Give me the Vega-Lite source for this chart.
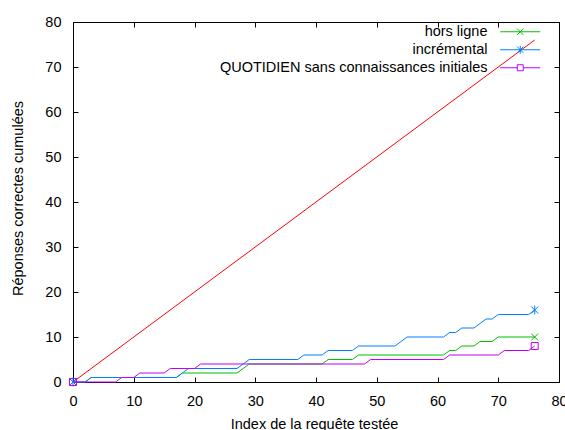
{
  "$schema": "https://vega.github.io/schema/vega-lite/v6.json",
  "width": 486,
  "height": 360,
  "autosize": {"type": "none"},
  "padding": {"left": 73, "top": 22, "right": 6, "bottom": 48},
  "background": "#ffffff",
  "config": {
    "font": "Liberation Sans",
    "view": {"stroke": null},
    "axis": {
      "grid": false,
      "domain": true,
      "domainColor": "#000000",
      "domainWidth": 1,
      "ticks": true,
      "tickColor": "#000000",
      "tickSize": -5,
      "tickWidth": 1,
      "labelColor": "#000000",
      "labelFont": "Liberation Sans",
      "labelFontSize": 14.5,
      "titleFont": "Liberation Sans",
      "titleFontSize": 14.5,
      "titleFontWeight": "normal",
      "titleColor": "#000000",
      "zindex": 1
    }
  },
  "datasets": {
    "diag": [
      {"x": 0, "y": 0},
      {"x": 76, "y": 76}
    ],
    "series": [
      {"s": "hors ligne", "x": 0, "y": 0},
      {"s": "hors ligne", "x": 2, "y": 0},
      {"s": "hors ligne", "x": 3, "y": 1},
      {"s": "hors ligne", "x": 17, "y": 1},
      {"s": "hors ligne", "x": 18, "y": 2},
      {"s": "hors ligne", "x": 27, "y": 2},
      {"s": "hors ligne", "x": 28, "y": 3},
      {"s": "hors ligne", "x": 29, "y": 4},
      {"s": "hors ligne", "x": 41, "y": 4},
      {"s": "hors ligne", "x": 42, "y": 5},
      {"s": "hors ligne", "x": 46, "y": 5},
      {"s": "hors ligne", "x": 47, "y": 6},
      {"s": "hors ligne", "x": 61, "y": 6},
      {"s": "hors ligne", "x": 62, "y": 7},
      {"s": "hors ligne", "x": 63, "y": 7},
      {"s": "hors ligne", "x": 64, "y": 8},
      {"s": "hors ligne", "x": 66, "y": 8},
      {"s": "hors ligne", "x": 67, "y": 9},
      {"s": "hors ligne", "x": 69, "y": 9},
      {"s": "hors ligne", "x": 70, "y": 10},
      {"s": "hors ligne", "x": 76, "y": 10},
      {"s": "incrémental", "x": 0, "y": 0},
      {"s": "incrémental", "x": 2, "y": 0},
      {"s": "incrémental", "x": 3, "y": 1},
      {"s": "incrémental", "x": 17, "y": 1},
      {"s": "incrémental", "x": 18, "y": 2},
      {"s": "incrémental", "x": 19, "y": 3},
      {"s": "incrémental", "x": 27, "y": 3},
      {"s": "incrémental", "x": 28, "y": 4},
      {"s": "incrémental", "x": 29, "y": 5},
      {"s": "incrémental", "x": 37, "y": 5},
      {"s": "incrémental", "x": 38, "y": 6},
      {"s": "incrémental", "x": 41, "y": 6},
      {"s": "incrémental", "x": 42, "y": 7},
      {"s": "incrémental", "x": 46, "y": 7},
      {"s": "incrémental", "x": 47, "y": 8},
      {"s": "incrémental", "x": 53, "y": 8},
      {"s": "incrémental", "x": 54, "y": 9},
      {"s": "incrémental", "x": 55, "y": 10},
      {"s": "incrémental", "x": 61, "y": 10},
      {"s": "incrémental", "x": 62, "y": 11},
      {"s": "incrémental", "x": 63, "y": 11},
      {"s": "incrémental", "x": 64, "y": 12},
      {"s": "incrémental", "x": 66, "y": 12},
      {"s": "incrémental", "x": 67, "y": 13},
      {"s": "incrémental", "x": 68, "y": 14},
      {"s": "incrémental", "x": 69, "y": 14},
      {"s": "incrémental", "x": 70, "y": 15},
      {"s": "incrémental", "x": 75, "y": 15},
      {"s": "incrémental", "x": 76, "y": 16},
      {"s": "QUOTIDIEN sans connaissances initiales", "x": 0, "y": 0},
      {"s": "QUOTIDIEN sans connaissances initiales", "x": 7, "y": 0},
      {"s": "QUOTIDIEN sans connaissances initiales", "x": 8, "y": 1},
      {"s": "QUOTIDIEN sans connaissances initiales", "x": 10, "y": 1},
      {"s": "QUOTIDIEN sans connaissances initiales", "x": 11, "y": 2},
      {"s": "QUOTIDIEN sans connaissances initiales", "x": 15, "y": 2},
      {"s": "QUOTIDIEN sans connaissances initiales", "x": 16, "y": 3},
      {"s": "QUOTIDIEN sans connaissances initiales", "x": 20, "y": 3},
      {"s": "QUOTIDIEN sans connaissances initiales", "x": 21, "y": 4},
      {"s": "QUOTIDIEN sans connaissances initiales", "x": 48, "y": 4},
      {"s": "QUOTIDIEN sans connaissances initiales", "x": 49, "y": 5},
      {"s": "QUOTIDIEN sans connaissances initiales", "x": 61, "y": 5},
      {"s": "QUOTIDIEN sans connaissances initiales", "x": 62, "y": 6},
      {"s": "QUOTIDIEN sans connaissances initiales", "x": 70, "y": 6},
      {"s": "QUOTIDIEN sans connaissances initiales", "x": 71, "y": 7},
      {"s": "QUOTIDIEN sans connaissances initiales", "x": 75, "y": 7},
      {"s": "QUOTIDIEN sans connaissances initiales", "x": 76, "y": 8}
    ],
    "markers": [
      {"s": "hors ligne", "x": 0, "y": 0},
      {"s": "hors ligne", "x": 76, "y": 10},
      {"s": "incrémental", "x": 0, "y": 0},
      {"s": "incrémental", "x": 76, "y": 16},
      {"s": "QUOTIDIEN sans connaissances initiales", "x": 0, "y": 0},
      {"s": "QUOTIDIEN sans connaissances initiales", "x": 76, "y": 8}
    ]
  },
  "layer": [
    {
      "data": {"name": "diag"},
      "mark": {"type": "line", "color": "#ff0000", "strokeWidth": 1},
      "encoding": {
        "x": {
          "field": "x", "type": "quantitative",
          "scale": {"domain": [0, 80], "nice": false, "zero": true},
          "axis": {
            "orient": "bottom",
            "values": [0, 10, 20, 30, 40, 50, 60, 70, 80],
            "labelBaseline": "alphabetic",
            "labelPadding": 28,
            "labelFlush": false,
            "title": "Index de la requête testée",
            "titleX": 241,
            "titleY": 46,
            "titleBaseline": "alphabetic",
            "titleAnchor": "middle",
            "titleAlign": "center"
          }
        },
        "y": {
          "field": "y", "type": "quantitative",
          "scale": {"domain": [0, 80], "nice": false, "zero": true},
          "axis": {
            "orient": "left",
            "values": [0, 10, 20, 30, 40, 50, 60, 70, 80],
            "labelPadding": 17,
            "labelFlush": false,
            "title": "Réponses correctes cumulées",
            "titleX": -55,
            "titleY": 176,
            "titleAngle": -90,
            "titleBaseline": "middle",
            "titleAlign": "center"
          }
        }
      }
    },
    {
      "data": {"name": "series"},
      "mark": {"type": "line", "strokeWidth": 1},
      "encoding": {
        "x": {
          "field": "x", "type": "quantitative",
          "scale": {"domain": [0, 80], "nice": false, "zero": true},
          "axis": {"orient": "top", "values": [0, 10, 20, 30, 40, 50, 60, 70, 80], "labels": false, "title": null}
        },
        "y": {
          "field": "y", "type": "quantitative",
          "scale": {"domain": [0, 80], "nice": false, "zero": true},
          "axis": {"orient": "right", "values": [0, 10, 20, 30, 40, 50, 60, 70, 80], "labels": false, "title": null}
        },
        "order": {"field": "x", "type": "quantitative"},
        "color": {
          "field": "s", "type": "nominal",
          "scale": {
            "domain": ["hors ligne", "incrémental", "QUOTIDIEN sans connaissances initiales"],
            "range": ["#00c000", "#0080ff", "#c000ff"]
          },
          "legend": {
            "title": null,
            "orient": "none",
            "legendX": 440,
            "legendY": 2.5,
            "padding": 0,
            "direction": "vertical",
            "labelAlign": "right",
            "labelOffset": -40,
            "labelLimit": 0,
            "labelFont": "Liberation Sans",
            "labelFontSize": 14.5,
            "labelColor": "#000000",
            "symbolSize": 16,
            "symbolStrokeWidth": 1,
            "rowPadding": 3,
            "encode": {
              "symbols": {
                "update": {
                  "shape": {"signal": "datum.value === 'hors ligne' ? 'M-10,0H10M-1.6,-1.6L1.6,1.6M-1.6,1.6L1.6,-1.6' : (datum.value === 'incrémental' ? 'M-10,0H10M-1.6,-1.6L1.6,1.6M-1.6,1.6L1.6,-1.6M0,-2V2' : 'M-10,0H-1.5M1.5,0H10M-1.5,-1.5H1.5V1.5H-1.5Z')"},
                  "stroke": {"signal": "datum.value === 'hors ligne' ? '#00c000' : (datum.value === 'incrémental' ? '#0080ff' : '#c000ff')"},
                  "size": {"value": 16},
                  "strokeWidth": {"value": 1},
                  "fill": {"value": "transparent"},
                  "opacity": {"value": 1}
                }
              }
            }
          }
        }
      }
    },
    {
      "data": {"name": "markers"},
      "transform": [{"filter": "datum.s === 'hors ligne'"}],
      "mark": {"type": "point", "filled": false, "size": 49, "strokeWidth": 1, "opacity": 1, "color": "#00c000", "shape": "M-1,-1L1,1M-1,1L1,-1"},
      "encoding": {
        "x": {"field": "x", "type": "quantitative", "scale": {"domain": [0, 80], "nice": false, "zero": true}, "axis": null},
        "y": {"field": "y", "type": "quantitative", "scale": {"domain": [0, 80], "nice": false, "zero": true}, "axis": null}
      }
    },
    {
      "data": {"name": "markers"},
      "transform": [{"filter": "datum.s === 'incrémental'"}],
      "mark": {"type": "point", "filled": false, "size": 49, "strokeWidth": 1, "opacity": 1, "color": "#0080ff", "shape": "M-1,-1L1,1M-1,1L1,-1M0,-1.3V1.3"},
      "encoding": {
        "x": {"field": "x", "type": "quantitative", "scale": {"domain": [0, 80], "nice": false, "zero": true}, "axis": null},
        "y": {"field": "y", "type": "quantitative", "scale": {"domain": [0, 80], "nice": false, "zero": true}, "axis": null}
      }
    },
    {
      "data": {"name": "markers"},
      "transform": [{"filter": "datum.s === 'QUOTIDIEN sans connaissances initiales'"}],
      "mark": {"type": "point", "filled": false, "size": 49, "strokeWidth": 1, "opacity": 1, "color": "#c000ff", "shape": "M-1,-1H1V1H-1Z"},
      "encoding": {
        "x": {"field": "x", "type": "quantitative", "scale": {"domain": [0, 80], "nice": false, "zero": true}, "axis": null},
        "y": {"field": "y", "type": "quantitative", "scale": {"domain": [0, 80], "nice": false, "zero": true}, "axis": null}
      }
    }
  ],
  "resolve": {"axis": {"x": "independent", "y": "independent"}}
}
